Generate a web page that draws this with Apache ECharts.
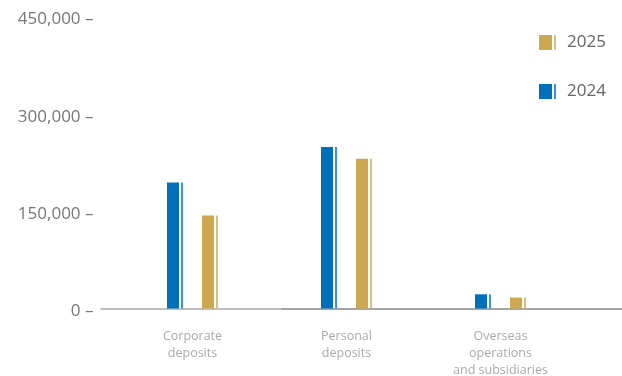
<!DOCTYPE html>
<html>
<head>
<meta charset="utf-8">
<script src="https://cdn.jsdelivr.net/npm/echarts@6/dist/echarts.min.js"></script>
<style>
html,body{margin:0;padding:0;background:#fff;}
#c{width:622px;height:376px;}
</style>
</head>
<body>
<div id="c"></div>
<script>
const categories = ['Corporate\ndeposits', 'Personal\ndeposits', 'Overseas\noperations\nand subsidiaries'];
const values2024 = [195000, 250000, 22000];
const values2025 = [144000, 232000, 17000];
const yTicks = [0, 150000, 300000, 450000];

function striped(main, stripe, a, b) {
  return {
    type: 'linear', x: 0, y: 0, x2: 1, y2: 0,
    colorStops: [
      {offset: 0, color: main}, {offset: a, color: main},
      {offset: a, color: 'rgba(255,255,255,0)'}, {offset: b, color: 'rgba(255,255,255,0)'},
      {offset: b, color: stripe}, {offset: 1, color: stripe}
    ]
  };
}
const blue = striped('#0070bb', '#3a94dc', 0.75, 0.875);
const gold = striped('#cca851', '#dcc07c', 0.75, 0.875);
const font = '"Open Sans", "Noto Sans", sans-serif';
const yMin = yTicks[0], yMax = yTicks[yTicks.length - 1], yStep = yTicks[1] - yTicks[0];

const chart = echarts.init(document.getElementById('c'), null, {renderer: 'canvas'});
chart.setOption({
  animation: false,
  backgroundColor: '#fff',
  grid: [
    {left: 115.5, right: 44.5, top: 18, bottom: 67.5, outerBoundsMode: 'none', containLabel: false},
    {left: 101, width: 181, top: 18, bottom: 67.5, outerBoundsMode: 'none', containLabel: false},
    {left: 282, right: 0, top: 18, bottom: 67.5, outerBoundsMode: 'none', containLabel: false},
    {left: 115.5, right: 44.5, top: 19.5, bottom: 65, outerBoundsMode: 'none', containLabel: false}
  ],
  legend: {
    data: ['2025', '2024'],
    orient: 'vertical',
    left: 534, top: 29,
    itemWidth: 17, itemHeight: 15,
    itemGap: 32,
    icon: 'rect',
    textStyle: {fontFamily: font, fontSize: 17, color: '#666', padding: [0, 0, 0, 6]}
  },
  xAxis: [
    {
      type: 'category', data: categories, gridIndex: 0,
      axisLine: {show: false}, axisTick: {show: false},
      axisLabel: {margin: 19.5, fontFamily: font, fontSize: 12.5, color: '#aaa', lineHeight: 17}
    },
    {type: 'value', gridIndex: 1, min: 0, max: 1, axisLine: {show: true, lineStyle: {color: '#aaa', width: 1.5}}, axisTick: {show: false}, axisLabel: {show: false}, splitLine: {show: false}},
    {type: 'value', gridIndex: 2, min: 0, max: 1, axisLine: {show: true, lineStyle: {color: '#888', width: 1.5}}, axisTick: {show: false}, axisLabel: {show: false}, splitLine: {show: false}},
    {type: 'value', gridIndex: 3, show: false}
  ],
  yAxis: [
    {type: 'value', gridIndex: 0, min: yMin, max: yMax, interval: yStep, show: false},
    {type: 'value', gridIndex: 1, show: false},
    {type: 'value', gridIndex: 2, show: false},
    {
      type: 'value', gridIndex: 3, min: yMin, max: yMax, interval: yStep,
      axisLine: {show: false}, axisTick: {show: false}, splitLine: {show: false},
      axisLabel: {
        margin: 22, fontFamily: font, fontSize: 17, color: '#777',
        formatter: v => v.toLocaleString('en-US') + ' \u2013'
      }
    }
  ],
  series: [
    {name: '2024', type: 'bar', data: values2024, barWidth: 16, barGap: '118.75%', itemStyle: {color: blue}, z: 3},
    {name: '2025', type: 'bar', data: values2025, barWidth: 16, barGap: '118.75%', itemStyle: {color: gold}, z: 3}
  ]
});
</script>
</body>
</html>
